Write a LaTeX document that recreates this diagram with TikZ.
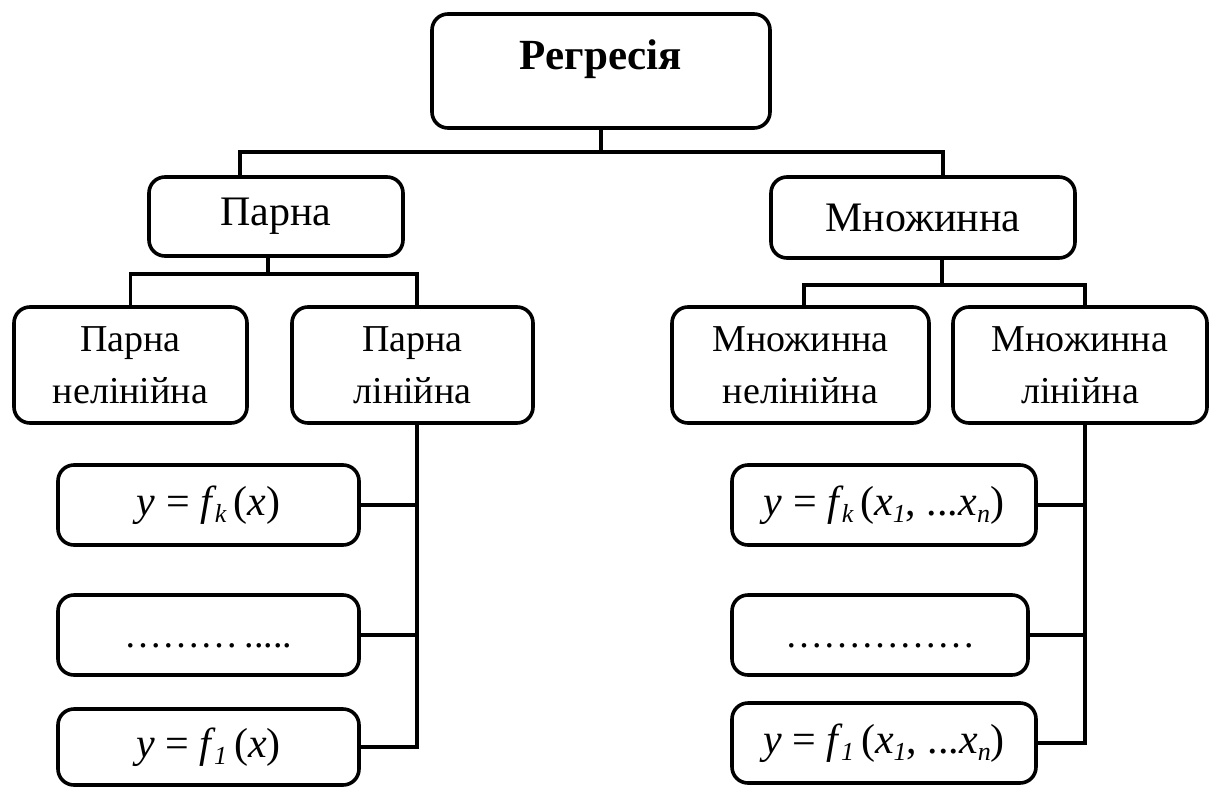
\documentclass[tikz,border=0pt]{standalone}
\usepackage{fontspec}
\setmainfont{Liberation Serif}
\newcommand{\sbs}[1]{\raisebox{-7pt}{\fontsize{26}{26}\selectfont\itshape #1}}
\begin{document}
\begin{tikzpicture}[x=1pt,y=-1pt,
  box/.style={draw, line width=3.6pt, rounded corners=16pt, inner sep=0pt, align=center},
  conn/.style={line width=3.6pt},
  ltwo/.style={font=\fontsize{42}{50}\selectfont},
  lthree/.style={font=\fontsize{38}{52}\selectfont, minimum height=116pt},
  frm/.style={font=\fontsize{42}{50}\selectfont, minimum height=80pt},
  dts/.style={font=\fontsize{38}{48}\selectfont, minimum height=80pt, text height=26pt, text depth=2pt}]
\useasboundingbox (0,0) rectangle (1212,787);
\fill[white] (0,0) rectangle (1212,787);
% top
\node[box, minimum width=338pt, minimum height=114pt, text depth=32pt,
  font=\fontsize{43}{50}\selectfont\bfseries] (reg) at (601,71) {Регресія};
% level 2
\node[box, ltwo, minimum width=254pt, minimum height=79pt] (par) at (276,216.5) {Парна};
\node[box, ltwo, minimum width=304pt, minimum height=81pt] (mn) at (923,217.5) {Множинна};
% level 3
\node[box, lthree, minimum width=233pt] (pn) at (130.5,365) {Парна\\нелінійна};
\node[box, lthree, minimum width=241pt] (pl) at (412.5,365) {Парна\\лінійна};
\node[box, lthree, minimum width=257pt] (mnn) at (800.5,365) {Множинна\\нелінійна};
\node[box, lthree, minimum width=254pt] (mnl) at (1080,365) {Множинна\\лінійна};
% formulas left
\node[box, frm, minimum width=301pt] (lfk) at (208.5,505)
  {\textit{y} = \textit{f}\kern-2pt\sbs{k}\,(\textit{x})};
\node[box, dts, minimum width=301pt] (ldots) at (208.5,635) {………\,.....};
\node[box, frm, minimum width=301pt, minimum height=76pt] (lf1) at (208.5,747)
  {\textit{y} = \textit{f}\kern-2pt\sbs{1}\,(\textit{x})};
% formulas right
\node[box, frm, minimum width=304pt] (rfk) at (884,505)
  {\textit{y} = \textit{f}\kern-2pt\sbs{k}\,(\textit{x}\sbs{1}, ...\textit{x}\sbs{n})};
\node[box, dts, minimum width=296pt] (rdots) at (880,635) {……………};
\node[box, frm, minimum width=304pt] (rf1) at (884,743)
  {\textit{y} = \textit{f}\kern-2pt\sbs{1}\,(\textit{x}\sbs{1}, ...\textit{x}\sbs{n})};
% connectors
\draw[conn] (reg.south) -- ++(0,22);
\draw[conn] ([xshift=-36pt]par.north) |- ([yshift=-22pt]reg.south) -| ([xshift=20pt]mn.north);
\draw[conn] ([xshift=-8pt]par.south) -- ++(0,16);
\draw[conn] (pn.north) |- ([xshift=-8pt,yshift=-16pt]par.south) -| ([xshift=4.5pt]pl.north);
\draw[conn] ([xshift=19pt]mn.south) -- ++(0,25);
\draw[conn] ([xshift=3.5pt]mnn.north) |- ([xshift=19pt,yshift=-25pt]mn.south) -| ([xshift=5pt]mnl.north);
\coordinate (plx) at ([xshift=4.5pt]pl.south);
\draw[conn] (plx) |- (lf1.east);
\draw[conn] (lfk.east) -- (lfk.east -| plx);
\draw[conn] (ldots.east) -- (ldots.east -| plx);
\coordinate (mlx) at ([xshift=5pt]mnl.south);
\draw[conn] (mlx) |- (rf1.east);
\draw[conn] (rfk.east) -- (rfk.east -| mlx);
\draw[conn] (rdots.east) -- (rdots.east -| mlx);
\end{tikzpicture}
\end{document}
